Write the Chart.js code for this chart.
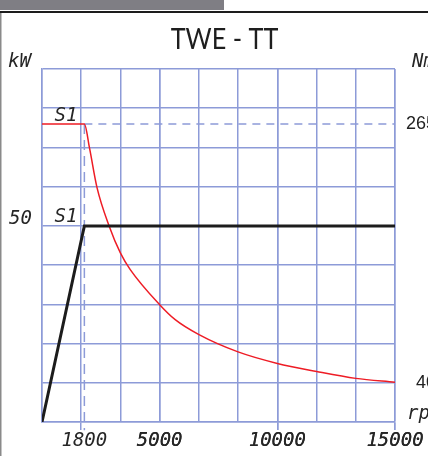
<!DOCTYPE html>
<html><head><meta charset="utf-8">
<script src="https://cdn.jsdelivr.net/npm/chart.js@4/dist/chart.umd.min.js"></script>
<style>html,body{margin:0;padding:0;background:#fff;}#wrap{position:relative;width:428px;height:456px;}canvas{display:block;}</style>
</head><body><div id="wrap"><canvas id="c" width="428" height="456"></canvas></div>
<script>
const TITLE = 'TWE - TT';
const UNIT_LEFT = 'kW', UNIT_RIGHT = 'Nm', UNIT_X = 'rpm', S1 = 'S1';
const RPM_POWER = [0, 1800, 15000];
const KW_POWER = [0, 50, 50];
const RPM_TORQUE = [0, 1800, 2020, 2335, 2860, 3330, 3750, 5000, 5660, 6670, 8330, 10000, 11670, 13330, 15000];
const NM_TORQUE = [265, 265, 244, 210, 176, 153, 138.5, 108, 95, 82, 67, 57, 50, 44, 40.6];
const RPM_GRID = [0, 1666.67, 3333.33, 5000, 6666.67, 8333.33, 10000, 11666.67, 13333.33, 15000];
const RPM_LABELS = [1800, 5000, 10000, 15000];
const RPM_TICKMARKS = [1666.67, 10000, 15000];
const KW_GRID = [0, 10, 20, 30, 40, 50, 60, 70, 80, 90];
const KW_LABELS = [50];
const NM_LABELS = [265, 40];
const S1_RPM = 1800, S1_KW = 50, S1_NM = 265;
const NM_MIN = 6.1, NM_MAX = 312.8, NM_DASH_END = -1;

const GRID = '#8d9bd8';
const NONE = 'rgba(0,0,0,0)';
const ISO = {family: '"DejaVu Sans Mono"', size: 19, style: 'italic'};
const ISO_CSS = 'italic 19px "DejaVu Sans Mono"';

const deco = {
  id: 'deco',
  beforeDraw(chart) {
    const c = chart.ctx; c.save();
    c.fillStyle = '#fff'; c.fillRect(0, 0, chart.width, chart.height);
    c.fillStyle = '#7f7e84'; c.fillRect(0, 0, 224, 10);
    c.fillStyle = '#1d1d1d'; c.fillRect(0, 11, chart.width, 2);
    c.fillStyle = '#8a8a8a'; c.fillRect(0, 13, 1.5, chart.height - 13);
    c.restore();
  },
  afterDraw(chart) {
    const c = chart.ctx, xs = chart.scales.x, ys = chart.scales.y, y2 = chart.scales.y2;
    c.save();
    c.fillStyle = '#1e1e1e';
    c.translate(224.5, 49); c.scale(0.9, 1);
    c.font = '28px Lato'; c.textAlign = 'center'; c.textBaseline = 'alphabetic';
    c.fillText(TITLE, 0, 0);
    c.restore();
    c.save();
    c.font = ISO_CSS; c.fillStyle = '#262626';
    c.textAlign = 'left';
    c.fillText(UNIT_LEFT, 8, 67);
    c.fillText(UNIT_RIGHT, 412, 67);
    c.fillText(UNIT_X, 407, 419);
    c.textAlign = 'right';
    const sx = xs.getPixelForValue(S1_RPM) - 7;
    c.fillText(S1, sx, y2.getPixelForValue(S1_NM) - 3);
    c.fillText(S1, sx, ys.getPixelForValue(S1_KW) - 4);
    c.restore();
  }
};

const pts = (xs, ys) => xs.map((x, i) => ({x, y: ys[i]}));

new Chart(document.getElementById('c'), {
  type: 'line',
  data: {
    datasets: [
      {data: pts(RPM_POWER, KW_POWER), yAxisID: 'y', borderColor: '#1c1c1c', borderWidth: 3, pointRadius: 0, tension: 0},
      {data: pts(RPM_TORQUE, NM_TORQUE), yAxisID: 'y2', borderColor: '#ee1c25', borderWidth: 1.5, pointRadius: 0, cubicInterpolationMode: 'monotone'},
      {data: pts([S1_RPM, RPM_POWER[2]], [S1_NM, S1_NM]), yAxisID: 'y2', borderColor: GRID, borderWidth: 1.5, borderDash: [8, 6], pointRadius: 0},
      {data: pts([S1_RPM, S1_RPM], [S1_NM, NM_DASH_END]), yAxisID: 'y2', borderColor: GRID, borderWidth: 1.5, borderDash: [10, 6], pointRadius: 0, clip: false}
    ]
  },
  options: {
    responsive: false, animation: false, devicePixelRatio: 1,
    layout: {padding: {top: 69, left: 0, right: 0, bottom: 0}},
    plugins: {legend: {display: false}, tooltip: {enabled: false}, title: {display: false}},
    scales: {
      x: {
        type: 'linear', min: 0, max: 15000, position: 'bottom',
        afterBuildTicks: s => { s.ticks = [...RPM_GRID, ...RPM_LABELS].sort((a, b) => a - b).map(v => ({value: v})); },
        afterFit: s => { s.height = 34; },
        ticks: {autoSkip: false, maxRotation: 0, padding: 0, color: '#262626', font: ISO,
          callback: v => RPM_LABELS.includes(v) ? String(v) : ''},
        grid: {lineWidth: 1.5, tickLength: 8,
          color: c => (c.tick && RPM_GRID.includes(c.tick.value)) ? GRID : NONE,
          tickColor: c => (c.tick && RPM_TICKMARKS.includes(c.tick.value)) ? GRID : NONE},
        border: {display: true, color: GRID, width: 1.5}
      },
      y: {
        type: 'linear', position: 'left', min: 0, max: 90,
        afterBuildTicks: s => { s.ticks = KW_GRID.map(v => ({value: v})); },
        afterFit: s => { s.width = 42; },
        ticks: {autoSkip: false, padding: 10, labelOffset: -7, color: '#262626', font: ISO,
          callback: v => KW_LABELS.includes(v) ? String(v) : ''},
        grid: {color: GRID, lineWidth: 1.5, drawTicks: false},
        border: {display: true, color: GRID, width: 1.5}
      },
      y2: {
        type: 'linear', position: 'right', min: NM_MIN, max: NM_MAX,
        afterBuildTicks: s => { s.ticks = NM_LABELS.map(v => ({value: v})); },
        afterFit: s => { s.width = 33; },
        ticks: {autoSkip: false, padding: 11, crossAlign: 'near', color: '#222',
          font: {family: '"Liberation Sans"', size: 18}, callback: v => String(v).padStart(3, '\u2007')},
        grid: {display: false, drawTicks: false},
        border: {display: false}
      }
    }
  },
  plugins: [deco]
});
</script></body></html>
